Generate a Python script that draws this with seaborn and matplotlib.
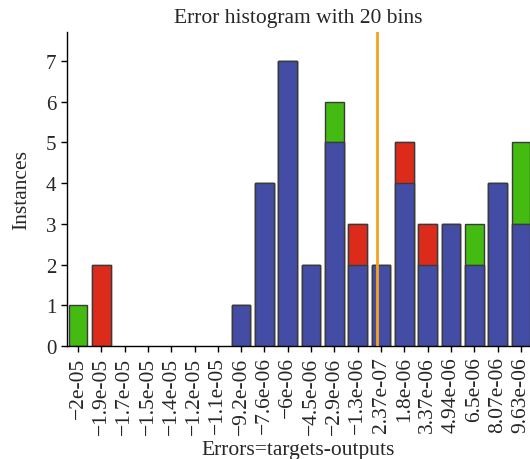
import numpy as np
import pandas as pd
import matplotlib
matplotlib.use("Agg")
import matplotlib.pyplot as plt
import seaborn as sns

# ---- data ----
bin_labels = ["−2e-05", "−1.9e-05", "−1.7e-05", "−1.5e-05", "−1.4e-05", "−1.2e-05",
              "−1.1e-05", "−9.2e-06", "−7.6e-06", "−6e-06", "−4.5e-06", "−2.9e-06",
              "−1.3e-06", "2.37e-07", "1.8e-06", "3.37e-06", "4.94e-06", "6.5e-06",
              "8.07e-06", "9.63e-06"]
bin_centers = [-2.0e-05, -1.9e-05, -1.7e-05, -1.5e-05, -1.4e-05, -1.2e-05, -1.1e-05,
               -9.2e-06, -7.6e-06, -6.0e-06, -4.5e-06, -2.9e-06, -1.3e-06, 2.37e-07,
               1.8e-06, 3.37e-06, 4.94e-06, 6.5e-06, 8.07e-06, 9.63e-06]
blue_counts  = [0, 0, 0, 0, 0, 0, 0, 1, 4, 7, 2, 5, 2, 2, 4, 2, 3, 2, 4, 3]
red_counts   = [0, 2, 0, 0, 0, 0, 0, 0, 0, 0, 0, 0, 1, 0, 1, 1, 0, 0, 0, 0]
green_counts = [1, 0, 0, 0, 0, 0, 0, 0, 0, 0, 0, 1, 0, 0, 0, 0, 0, 1, 0, 2]
zero_error = 0.0

title = "Error histogram with 20 bins"
xlabel = "Errors=targets-outputs"
ylabel = "Instances"

# ---- style ----
sns.set_style("ticks")
plt.rcParams["font.family"] = ["Liberation Serif", "DejaVu Serif"]

BLUE = "#434da6"
RED = "#dc2b1a"
GREEN = "#44bb11"
ORANGE = "#f7a21b"

df = pd.DataFrame({
    "bin": bin_labels,
    "blue": blue_counts,
    "red": red_counts,
    "green": green_counts,
})
df["blue_red"] = df["blue"] + df["red"]
df["total"] = df["blue"] + df["red"] + df["green"]

fig = plt.figure(figsize=(5.3, 4.6), dpi=100)
ax = fig.add_axes([0.1264, 0.2457, 0.8736, 0.6826])

bar_kw = dict(order=bin_labels, width=0.8, saturation=1, edgecolor="#3a3a3a",
              linewidth=1.0, ax=ax, errorbar=None)
sns.barplot(data=df, x="bin", y="total", color=GREEN, **bar_kw)
sns.barplot(data=df, x="bin", y="blue_red", color=RED, **bar_kw)
sns.barplot(data=df, x="bin", y="blue", color=BLUE, **bar_kw)

# hide empty bars (zero height would otherwise show as an edge line)
for p in ax.patches:
    if p.get_height() == 0:
        p.set_visible(False)

# zero-error line positioned on the categorical axis
zero_pos = np.interp(zero_error, bin_centers, np.arange(len(bin_centers)))
ax.axvline(zero_pos, color=ORANGE, linewidth=2.0, zorder=5)

ax.set_xlim(-0.47, 19.39)
ax.set_ylim(0, 7.71)
ax.set_yticks(range(0, 8))
ax.tick_params(axis="both", labelsize=15, length=4, width=1, color="black")
ax.tick_params(axis="x", labelrotation=90, labelsize=15.5)
for lab in ax.get_xticklabels():
    lab.set_verticalalignment("top")

sns.despine(ax=ax)
for sp in ("left", "bottom"):
    ax.spines[sp].set_color("black")
    ax.spines[sp].set_linewidth(1.0)

ax.set_title(title, fontsize=15.5, pad=7)
ax.set_xlabel("")
ax.set_ylabel(ylabel, fontsize=15.5, labelpad=11)
fig.text(0.562, 0.0, xlabel, ha="center", va="bottom", fontsize=15.5)

fig.savefig("out.png", dpi=100)
